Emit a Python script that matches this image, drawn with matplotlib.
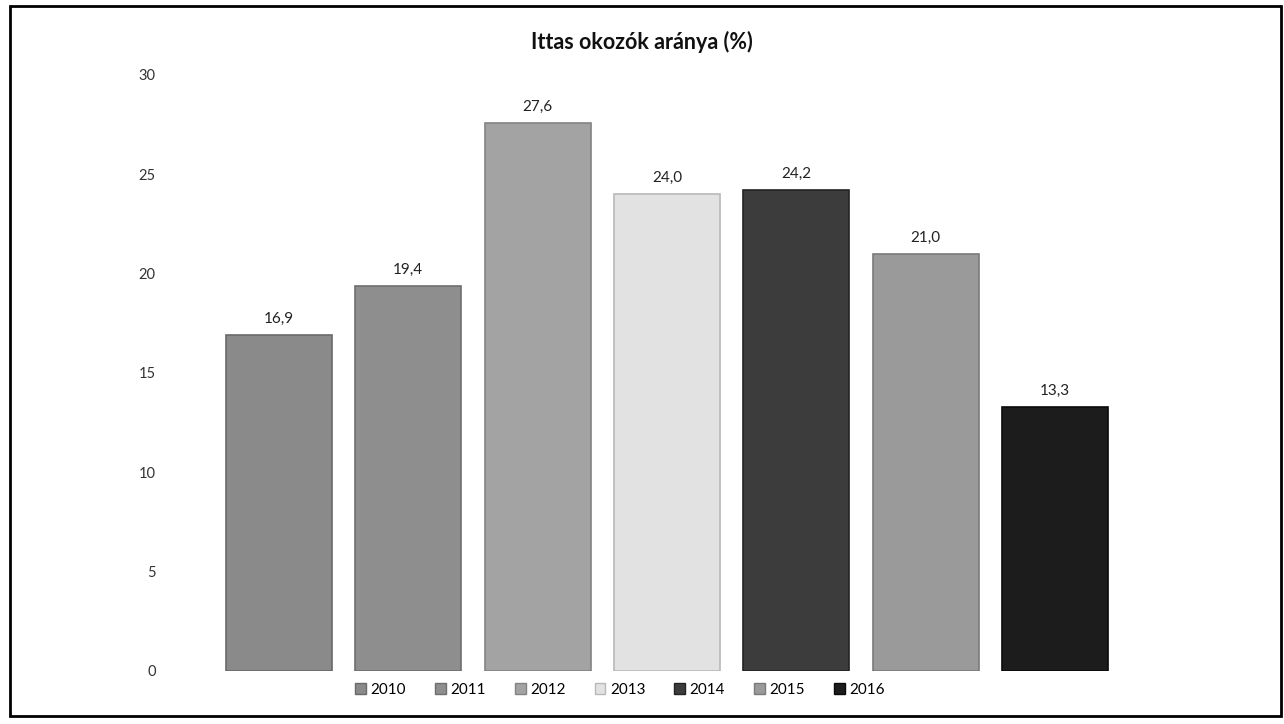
from matplotlib import pyplot as plt
from matplotlib.patches import Rectangle, Patch
import numpy as np

plt.rcParams['font.family'] = ['Lato', 'DejaVu Sans']

#data
years = ['2010', '2011', '2012', '2013', '2014', '2015', '2016']
values = [16.9, 19.4, 27.6, 24.0, 24.2, 21.0, 13.3]
colors = ['#8a8a8a', '#8e8e8e', '#a3a3a3', '#e2e2e2', '#3c3c3c', '#9a9a9a', '#1c1c1c']
edges = ['#6a6a6a', '#6e6e6e', '#838383', '#b8b8b8', '#222222', '#7a7a7a', '#0a0a0a']

W, H = 1284, 724
fig = plt.figure(figsize=(W / 100, H / 100), dpi=100)
ax = fig.add_axes([214 / W, 1 - 671 / H, (1120 - 214) / W, (671 - 75) / H])

x = np.arange(len(years))
bars = ax.bar(x, values, width=0.82, color=colors, edgecolor=edges, linewidth=1.2)
for xi, v in zip(x, values):
    ax.text(xi, v + 0.45, f'{v:.1f}'.replace('.', ','), ha='center', va='bottom',
            fontsize=11, color='#222222')

ax.set_xlim(-0.5, 6.5)
ax.set_ylim(0, 30)
ax.set_yticks(range(0, 31, 5))
ax.set_xticks([])
ax.tick_params(axis='y', length=0, pad=42, labelsize=10.5, labelcolor='#333333')
for s in ax.spines.values():
    s.set_visible(False)

fig.text(642 / W, 1 - 42 / H, 'Ittas okozók aránya (%)', ha='center', va='center',
         fontsize=15.5, fontweight='bold', color='#111111')

handles = [Patch(facecolor=c, edgecolor=e) for c, e in zip(colors, edges)]
fig.legend(handles, years, loc='center', bbox_to_anchor=(620 / W, 1 - 690 / H),
           ncol=7, frameon=False, fontsize=11, handlelength=0.7, handleheight=0.7,
           handletextpad=0.3, columnspacing=1.9)

#frame around the whole chart
fig.patches.append(Rectangle((10 / W, 1 - 716 / H), (1281 - 10) / W, (716 - 6) / H,
                             transform=fig.transFigure, fill=False,
                             edgecolor='black', linewidth=2))

fig.savefig('out.png', dpi=100)
